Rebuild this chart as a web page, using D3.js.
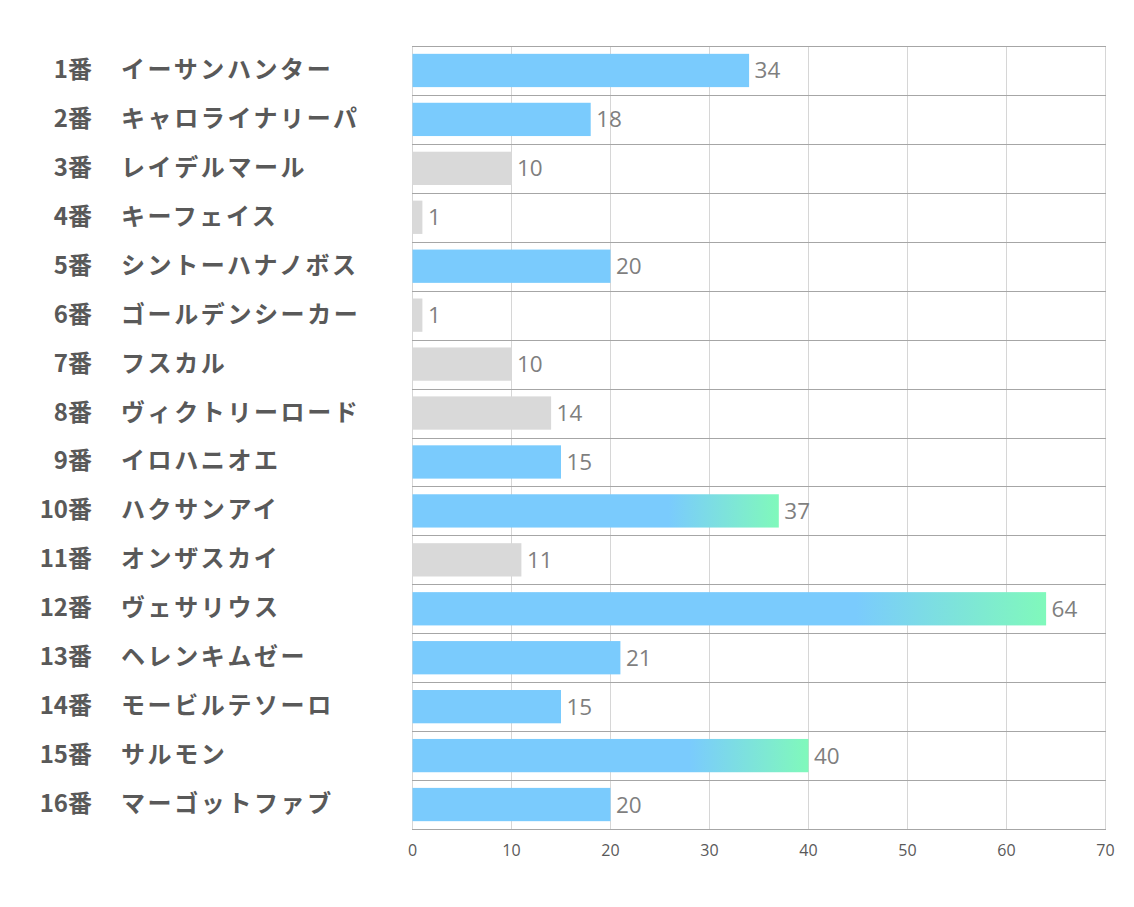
<!DOCTYPE html>
<html><head><meta charset="utf-8">
<script src="https://cdn.jsdelivr.net/npm/d3@7"></script>
<style>body{margin:0;background:#fff}svg{display:block}</style>
</head><body>
<svg id="c" width="1134" height="907"></svg>
<script>
const numbers = ["1番","2番","3番","4番","5番","6番","7番","8番","9番","10番","11番","12番","13番","14番","15番","16番"];
const names = ["イーサンハンター","キャロライナリーパ","レイデルマール","キーフェイス","シントーハナノボス","ゴールデンシーカー","フスカル","ヴィクトリーロード","イロハニオエ","ハクサンアイ","オンザスカイ","ヴェサリウス","ヘレンキムゼー","モービルテソーロ","サルモン","マーゴットファブ"];
const values = [34,18,10,1,20,1,10,14,15,37,11,64,21,15,40,20];
const kinds = ["blue","blue","gray","gray","blue","gray","gray","gray","blue","grad","gray","grad","blue","blue","grad","blue"];
const xTicks = [0,10,20,30,40,50,60,70];

(function(){
const svg = d3.select("#c");
const pL = 412, pR = 1105, pT = 46, pB = 829;
const x = d3.scaleLinear().domain([0,70]).range([pL,pR]);
const y = d3.scaleBand().domain(d3.range(16)).range([pT,pB]).paddingInner(0).paddingOuter(0);
const bh = y.bandwidth()*0.68;

const defs = svg.append("defs");
const g = defs.append("linearGradient").attr("id","gr").attr("x1","0").attr("x2","1").attr("y1","0").attr("y2","0");
g.append("stop").attr("offset","0.7").attr("stop-color","#7acbfd");
g.append("stop").attr("offset","1").attr("stop-color","#80f9bb");

svg.append("g").selectAll("line").data(xTicks).join("line")
  .attr("x1",d=>Math.round(x(d))+0.5).attr("x2",d=>Math.round(x(d))+0.5).attr("y1",pT).attr("y2",pB)
  .attr("stroke","#d6d6d6").attr("stroke-width",1);

svg.append("g").selectAll("line").data(d3.range(17)).join("line")
  .attr("x1",pL).attr("x2",pR+1)
  .attr("y1",d=>Math.round(pT + d*y.step())+0.5).attr("y2",d=>Math.round(pT + d*y.step())+0.5)
  .attr("stroke","#a6a6a6").attr("stroke-width",1);

svg.append("g").selectAll("rect").data(values).join("rect")
  .attr("x",x(0)+0.5).attr("y",(d,i)=>y(i)+(y.bandwidth()-bh)/2)
  .attr("width",d=>x(d)-x(0)).attr("height",bh)
  .attr("fill",(d,i)=>kinds[i]==="gray"?"#d9d9d9":kinds[i]==="grad"?"url(#gr)":"#7acbfd");

svg.append("g").selectAll("text").data(values).join("text")
  .attr("x",d=>x(d)+6).attr("y",(d,i)=>y(i)+y.bandwidth()/2+2)
  .attr("dominant-baseline","middle")
  .attr("font-family","'Open Sans','Noto Sans',sans-serif").attr("font-size",22.5)
  .attr("fill","#7f7f7f").text(d=>d);

const lab = svg.append("g").attr("font-family","'Noto Sans CJK JP',sans-serif").attr("font-weight","bold").attr("font-size",24).attr("fill","#595959");
lab.selectAll("text.n").data(numbers).join("text").attr("class","n")
  .attr("x",92).attr("y",(d,i)=>y(i)+y.bandwidth()/2+1)
  .attr("dominant-baseline","middle").attr("text-anchor","end").text(d=>d);
lab.selectAll("text.m").data(names).join("text").attr("class","m")
  .attr("x",121).attr("y",(d,i)=>y(i)+y.bandwidth()/2+1)
  .attr("letter-spacing","2.6px")
  .attr("dominant-baseline","middle").attr("text-anchor","start").text(d=>d);

const ax = svg.append("g").attr("transform",`translate(0,${pB})`)
  .call(d3.axisBottom(x).tickValues(xTicks).tickSize(0).tickPadding(16));
ax.select(".domain").remove();
ax.selectAll("text").attr("font-family","'Open Sans','Noto Sans',sans-serif").attr("font-size",16).attr("fill","#595959");
})();
</script>
</body></html>
